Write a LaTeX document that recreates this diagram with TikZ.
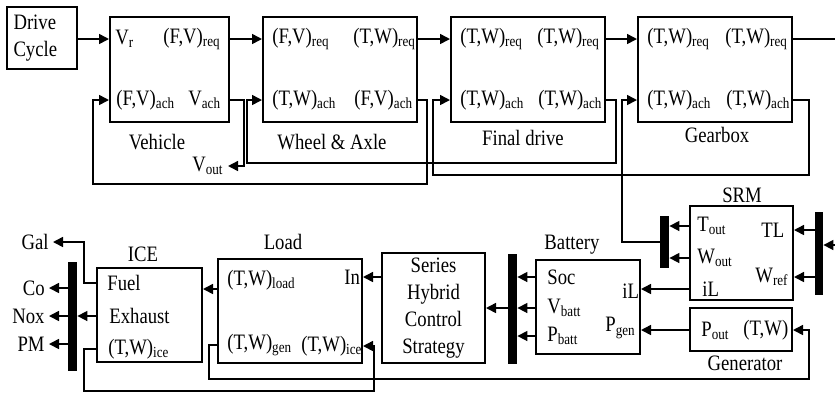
\documentclass[tikz,border=0pt]{standalone}
\usepackage{fontspec}
\setmainfont[FakeStretch=0.85]{Liberation Serif}
\usetikzlibrary{arrows.meta,positioning}

\newcommand{\FV}[1]{(F,V)\textsubscript{#1}}
\newcommand{\TW}[1]{(T,W)\textsubscript{#1}}

\tikzset{
  blk/.style={draw, line width=1pt, inner sep=0pt},
  bus/.style={fill=black, inner sep=0pt, minimum width=4.5pt},
  lbl/.style={inner sep=0pt, anchor=west},
  ttl/.style={inner sep=0pt},
  tag/.style={inner sep=2pt, anchor=east},
  arr/.style={line width=0.8pt, -{Triangle[length=5pt,width=5pt]}},
  ln/.style={line width=0.8pt},
}

\begin{document}
\begin{tikzpicture}[x=0.5pt, y=-0.5pt, font=\fontsize{11}{13.5}\selectfont]
  \useasboundingbox (0,0) rectangle (835,393);

  % Top row: drive cycle and driveline
  \node[blk, text width=28pt, inner xsep=3.5pt, minimum height=31pt, align=left]
    (drive) at (41.5,38) {Drive\\Cycle};
  \node[blk, minimum width=59.5pt, minimum height=52.5pt] (veh) at (169.5,69.5) {};
  \node[blk, minimum width=77pt, minimum height=52.5pt] (wheel) at (340,69.5) {};
  \node[blk, minimum width=77pt, minimum height=52.5pt] (final) at (528,69.5) {};
  \node[blk, minimum width=77pt, minimum height=52.5pt] (gear) at (715,69.5) {};

  \node[lbl] (vr) at (115,39) {V\textsubscript{r}};
  \node[lbl] (vreq) at (163,39) {\FV{req}};
  \node[lbl] (vach) at (116,100) {\FV{ach}};
  \node[lbl] (vvach) at (188,100) {V\textsubscript{ach}};
  \node[ttl] (vehttl) at (157,142) {Vehicle};
  \node[lbl, inner sep=2pt] (vout) at (188,166) {V\textsubscript{out}};

  \node[lbl] (wreq) at (272,39) {\FV{req}};
  \node[lbl] (wtreq) at (353,39) {\TW{req}};
  \node[lbl] (wtach) at (272,100) {\TW{ach}};
  \node[lbl] (wfach) at (354,100) {\FV{ach}};
  \node[ttl] (wheelttl) at (332,142) {Wheel \& Axle};

  \node[lbl] (f1) at (460,39) {\TW{req}};
  \node[lbl] (f2) at (537,39) {\TW{req}};
  \node[lbl] (f3) at (460,100) {\TW{ach}};
  \node[lbl] (f4) at (538,100) {\TW{ach}};
  \node[ttl] (finalttl) at (523,138) {Final drive};

  \node[lbl] (g1) at (647,39) {\TW{req}};
  \node[lbl] (g2) at (725,39) {\TW{req}};
  \node[lbl] (g3) at (647,100) {\TW{ach}};
  \node[lbl] (g4) at (726,100) {\TW{ach}};
  \node[ttl] (gearttl) at (717,135) {Gearbox};

  % SRM and generator
  \node[blk, minimum width=51.5pt, minimum height=47pt] (srm) at (741.5,253) {};
  \node[blk, minimum width=51pt, minimum height=21.5pt] (gen) at (741,329.5) {};
  \node[bus, minimum height=26pt] (srmL) at (664.5,242) {};
  \node[bus, minimum width=4pt, minimum height=41.5pt] (srmR) at (819,253.5) {};
  \node[ttl] (srmttl) at (742,195) {SRM};
  \node[lbl] (tout) at (697,226) {T\textsubscript{out}};
  \node[lbl] (tl) at (761,230) {TL};
  \node[lbl] (wout) at (697,258) {W\textsubscript{out}};
  \node[lbl] (wref) at (755,277) {W\textsubscript{ref}};
  \node[lbl] (siL) at (702,289) {iL};
  \node[lbl] (pout) at (701,331) {P\textsubscript{out}};
  \node[lbl] (gtw) at (743,330) {(T,W)};
  \node[ttl] (genttl) at (745,363) {Generator};

  % Battery and control strategy
  \node[blk, minimum width=52pt, minimum height=47pt] (batt) at (588,307) {};
  \node[bus, minimum height=55pt] (battL) at (512.5,309) {};
  \node[ttl] (battttl) at (572,245) {Battery};
  \node[lbl] (soc) at (547,277) {Soc};
  \node[lbl] (vbatt) at (547,308) {V\textsubscript{batt}};
  \node[lbl] (pbatt) at (547,336) {P\textsubscript{batt}};
  \node[lbl] (biL) at (622,291) {iL};
  \node[lbl] (pgen) at (605,328) {P\textsubscript{gen}};
  \node[blk, minimum width=51.5pt, minimum height=55pt, align=center]
    (hcs) at (433.5,308) {Series\\Hybrid\\Control\\Strategy};

  % Load and engine
  \node[blk, minimum width=72pt, minimum height=52pt] (load) at (290,311) {};
  \node[ttl] (loadttl) at (283,242) {Load};
  \node[lbl] (tload) at (227,280) {\TW{load}};
  \node[lbl] (lin) at (344,277) {In};
  \node[lbl] (ltwg) at (227,345) {\TW{gen}};
  \node[lbl] (ltwi) at (301,346) {\TW{ice}};

  \node[blk, minimum width=52.5pt, minimum height=47pt] (ice) at (149.5,315) {};
  \node[bus, minimum height=54.5pt] (iceL) at (72.5,316.5) {};
  \node[ttl] (icettl) at (143,254) {ICE};
  \node[lbl] (fuel) at (107,283) {Fuel};
  \node[lbl] (exh) at (109,316) {Exhaust};
  \node[lbl] (itw) at (108,349) {\TW{ice}};
  \node[tag] (gal) at (53,242) {Gal};
  \node[tag] (co) at (49,288) {Co};
  \node[tag] (nox) at (49,316) {Nox};
  \node[tag] (pm) at (49,344) {PM};

  % Forward path
  \draw[arr] (drive.east |- vr) -- (veh.west |- vr);
  \draw[arr] (veh.east |- vreq) -- (wheel.west |- vreq);
  \draw[arr] (wheel.east |- wtreq) -- (final.west |- wtreq);
  \draw[arr] (final.east |- f2) -- (gear.west |- f2);
  \coordinate (gout) at (835,39);
  \draw[ln] (gear.east |- g2) -- (gout);

  % Feedback paths
  \draw[arr] (veh.east |- vvach) -- ++(14,0) |- (vout.east);
  \draw[arr] (wheel.east |- wfach) -| (427,184) -| (93,100) -- (veh.west |- vach);
  \draw[arr] (final.east |- f4) -| (616,163) -| (247,100) -- (wheel.west |- wtach);
  \draw[arr] (gear.east |- g4) -| (809,175) -| (433,100) -- (final.west |- f3);
  \draw[arr] (srmL.west) -| (622,100) -- (gear.west |- g3);

  % SRM, generator, battery
  \draw[arr] (srm.west |- tout) -- (srmL.east |- tout);
  \draw[arr] (srm.west |- wout) -- (srmL.east |- wout);
  \draw[arr] (srmR.west |- tl) -- (srm.east |- tl);
  \draw[arr] (srmR.west |- wref) -- (srm.east |- wref);
  \coordinate (srmin) at (835,245);
  \draw[arr] (srmin) -- (srmR.east |- srmin);
  \draw[arr] (srm.west |- siL) -- (batt.east |- siL);
  \draw[arr] (gen.west |- gtw) -- (batt.east |- gtw);
  \draw[arr] (batt.west |- soc) -- (battL.east |- soc);
  \draw[arr] (batt.west |- vbatt) -- (battL.east |- vbatt);
  \draw[arr] (batt.west |- pbatt) -- (battL.east |- pbatt);
  \draw[arr] (battL.west |- vbatt) -- (hcs.east |- vbatt);
  \draw[arr] (hcs.west |- lin) -- (load.east |- lin);

  % Load and engine
  \path (load.west |- tload) ++(0,9) coordinate (ldout);
  \draw[arr] (ldout) -- (ldout -| ice.east);
  \draw[arr] (ice.west |- exh) -- (iceL.east |- exh);
  \draw[arr] (iceL.west |- co) -- (co.east);
  \draw[arr] (iceL.west |- nox) -- (nox.east);
  \draw[arr] (iceL.west |- pm) -- (pm.east);
  \draw[arr] (ice.west |- fuel) -- ++(-12,0) |- (gal.east);
  \draw[arr] (ice.west |- itw) -- ++(-12,0) |- (374,391) |- (load.east |- ltwi);
  \draw[arr] (load.west |- ltwg) -- ++(-8,0) |- (809,379) |- (gen.east |- gtw);
\end{tikzpicture}
\end{document}
